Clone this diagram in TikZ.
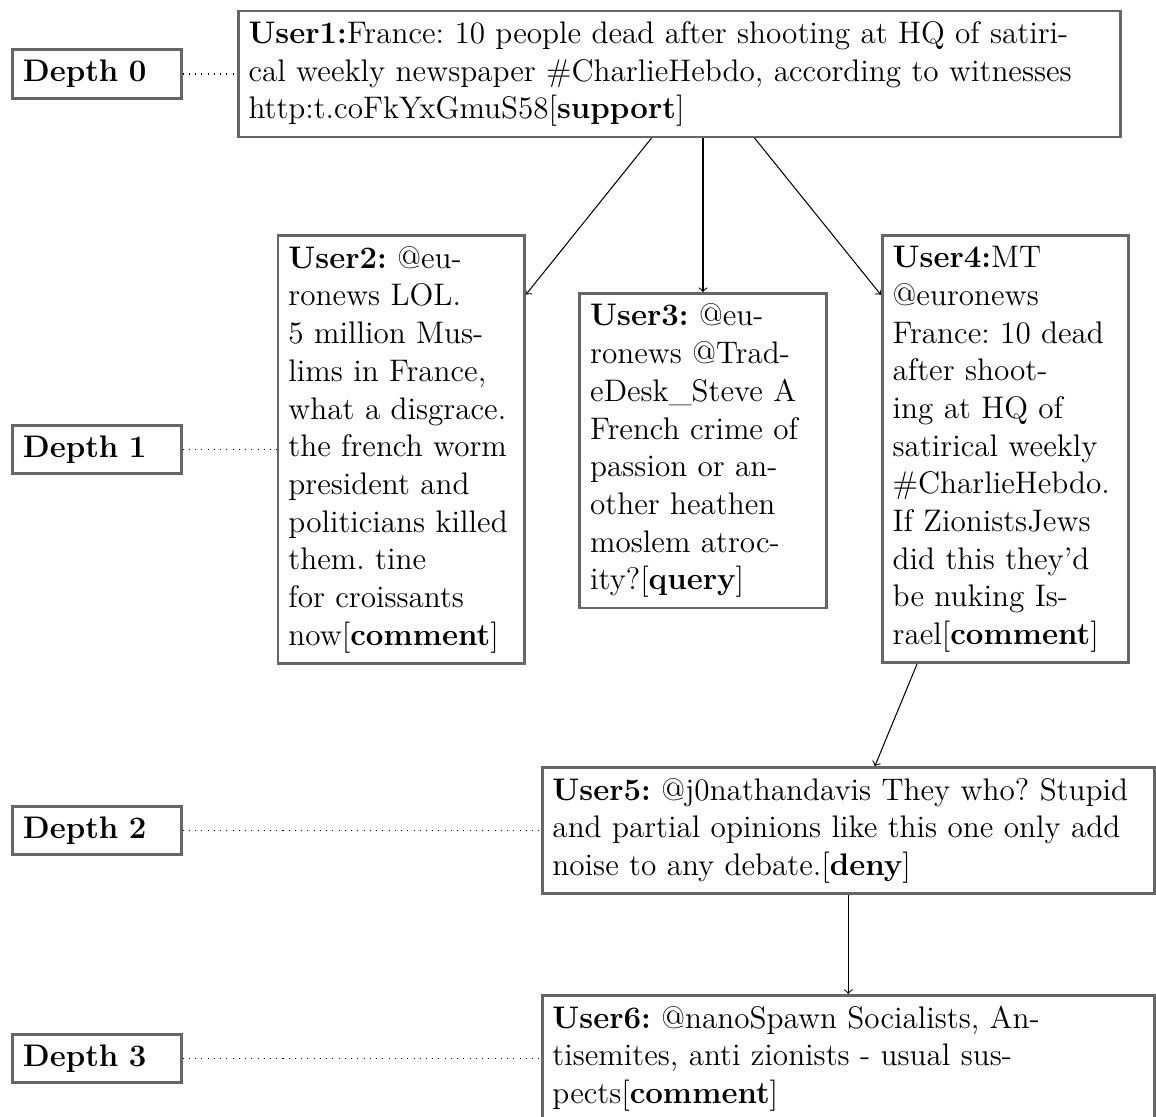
\documentclass[tikz,border=0pt]{standalone}
\usetikzlibrary{backgrounds}

\begin{document}
\begin{tikzpicture}[
    every node/.style={font=\fontsize{12}{14.5}\selectfont\frenchspacing},
    post/.style={draw=black!60, line width=1.1pt, fill=white, inner sep=4pt, align=left, anchor=north west},
    depthbox/.style={post, anchor=center, text width=2cm, font=\fontsize{12}{14.5}\selectfont\bfseries},
  ]
  \useasboundingbox (0,0) rectangle (15.63,-15.09);

  % Depth 0: source tweet
  \node[post, text width=11.65cm] (u1) at (3.20,-0.13) {\textbf{User1:}France: 10 people dead after shooting at HQ of satirical weekly newspaper \#CharlieHebdo, according to witnesses http:t.coFkYxGmuS58[\textbf{support}]};

  % Depth 1: direct replies
  \node[post, text width=3.05cm] (u2) at (3.74,-3.17) {\textbf{User2:} @euronews LOL.\\ 5 million Muslims in France, what a disgrace. the french worm president and politicians killed them. tine\\ for croissants now[\textbf{comment}]};
  \node[post, text width=3.05cm] (u3) at (7.82,-3.95) {\textbf{User3:} @euronews @TradeDesk\_Steve A French crime of passion or another heathen moslem atrocity?[\textbf{query}]};
  \node[post, text width=3.05cm] (u4) at (11.91,-3.17) {\textbf{User4:}MT\\ @euronews\\ France: 10 dead\\ after shoot-\\ ing at HQ of\\ satirical weekly\\ \#CharlieHebdo.\\ If ZionistsJews\\ did this they'd\\ be nuking Is-\\ rael[\textbf{comment}]};

  % Depth 2 and 3
  \node[post, text width=8cm] (u5) at (7.31,-10.36) {\textbf{User5:} @j0nathandavis They who? Stupid and partial opinions like this one only add noise to any debate.[\textbf{deny}]};
  \node[post, text width=8cm] (u6) at (7.31,-13.44) {\textbf{User6:} @nanoSpawn Socialists, Antisemites, anti zionists - usual suspects[\textbf{comment}]};

  % depth labels on the left
  \coordinate (dcol) at (1.31,0);
  \node[depthbox] (d0) at (dcol |- u1) {Depth 0};
  \node[depthbox] (d1) at (dcol |- u2) {Depth 1};
  \node[depthbox] (d2) at (dcol |- u5) {Depth 2};
  \node[depthbox] (d3) at (dcol |- u6) {Depth 3};

  \draw[dotted] (d0) -- (u1);
  \draw[dotted] (d1) -- (u2);
  \draw[dotted] (d2) -- (d2 -| u5.west);
  \draw[dotted] (d3) -- (d3 -| u6.west);

  % reply edges
  \coordinate (hub) at (u3 |- u1);
  \begin{scope}[on background layer]
    \draw[->] (hub) -- (u2);
    \draw[->] (hub) -- (u3);
    \draw[->] (hub) -- (u4);
  \end{scope}
  \draw[->] (u4) -- (u5);
  \draw[->] (u5) -- (u6);
\end{tikzpicture}
\end{document}
